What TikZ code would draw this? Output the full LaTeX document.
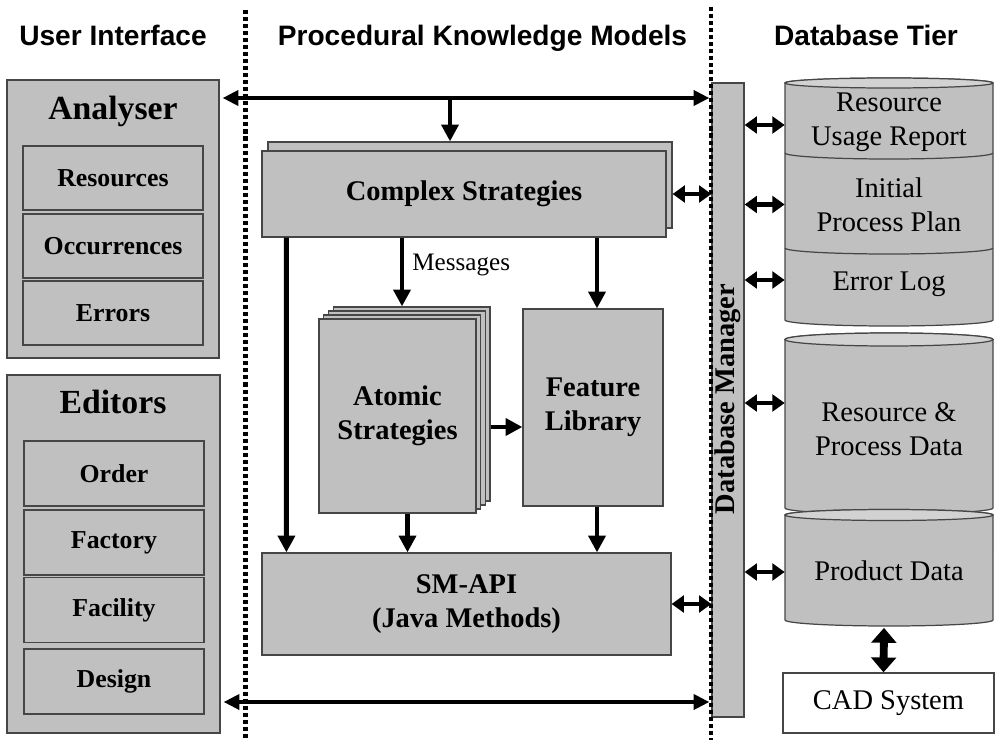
\documentclass[tikz,border=0pt]{standalone}
\usepackage{fontspec}
\setmainfont{Liberation Serif}
\newfontfamily\tierfont{Liberation Sans}
\usepackage{tikz}
\usetikzlibrary{arrows.meta,positioning,calc}
\definecolor{boxgray}{RGB}{192,192,192}
\definecolor{capgray}{RGB}{210,210,210}
\definecolor{edgegray}{RGB}{70,70,70}

\begin{document}
\begin{tikzpicture}[x=0.02cm,y=-0.02cm,every node/.style={inner sep=0pt,align=center},
  box/.style={draw=edgegray,fill=boxgray,line width=0.7pt},
  tier/.style={font=\tierfont\bfseries\fontsize{16}{19}\selectfont,anchor=base},
  title/.style={font=\bfseries\fontsize{19.2}{23}\selectfont,anchor=base},
  item/.style={box,minimum width=3.6cm,minimum height=1.3cm,font=\bfseries\fontsize{14.7}{17}\selectfont},
  main/.style={font=\bfseries\fontsize{16.2}{19.5}\selectfont},
  plain/.style={font=\fontsize{16.2}{19.5}\selectfont},
  cyl/.style={draw=edgegray,fill=boxgray,line width=0.7pt},
  bus/.style={line width=2.8pt,{Triangle[length=9pt,width=8.5pt]}-{Triangle[length=9pt,width=8.5pt]}},
  feed/.style={line width=2.8pt,-{Triangle[length=9.5pt,width=9.5pt]}},
  link/.style={line width=2.8pt,{Triangle[length=7pt,width=9.5pt]}-{Triangle[length=7pt,width=9.5pt]}},
  lift/.style={line width=4.5pt,{Triangle[length=8.5pt,width=14pt]}-{Triangle[length=8.5pt,width=14pt]}},
  sep/.style={line width=2.8pt,dash pattern=on 2.3pt off 1.7pt}]
\useasboundingbox (0,0) rectangle (997,740);

% tier headings
\node[tier] (uihead) at (113,46) {User Interface};
\node[tier] (pkmhead) at (482.5,46) {Procedural Knowledge Models};
\node[tier] (dbhead) at (866,46) {Database Tier};

% user interface
\node[box,minimum width=4.24cm,minimum height=5.56cm] (analyser) at (113,219) {};
\node[title] (analysertitle) at (113,119) {Analyser};
\node[item,minimum height=1.28cm] (resources) at (113,178) {Resources};
\node[item,minimum height=1.28cm] (occurrences) at (113,246) {Occurrences};
\node[item,minimum height=1.28cm] (errors) at (113,313) {Errors};

\node[box,minimum width=4.26cm,minimum height=7.16cm] (editors) at (113.5,554) {};
\node[title] (editorstitle) at (113,413) {Editors};
\node[item] (order) at (114,473.5) {Order};
\node[item] (factory) at (114,542.5) {Factory};
\node[item] (facility) at (114,610) {Facility};
\node[item] (design) at (114,681.5) {Design};

% procedural knowledge models
\node[box,minimum width=8.08cm,minimum height=1.72cm] (complexback) at (470,185) {};
\node[box,minimum width=8.08cm,minimum height=1.72cm,main] (complex) at (464,194) {Complex Strategies};

\foreach \i in {3,2,1}
  \node[box,minimum width=3.14cm,minimum height=3.88cm] (atomic\i) at ({397.5+4.7*\i},{416-4*\i}) {};
\node[box,minimum width=3.14cm,minimum height=3.88cm,main] (atomic) at (397.5,416) {Atomic\\Strategies};

\node[box,minimum width=2.8cm,minimum height=3.94cm,main] (feature) at (593,407.5) {Feature\\Library};
\node[box,minimum width=8.18cm,minimum height=2.04cm,main] (smapi) at (466.5,604) {SM-API\\(Java Methods)};

\node[box,minimum width=0.64cm,minimum height=12.68cm] (dbm) at (728,400) {};
\node[main,rotate=90] (dbmlabel) at (728,399) {Database Manager};

% database tier
\draw[cyl] (785,83) -- (785,320) arc[start angle=180,end angle=360,x radius=2.08cm,y radius=0.12cm]
  -- (993,83) arc[start angle=0,end angle=180,x radius=2.08cm,y radius=0.1cm] -- cycle;
\draw[cyl,fill=capgray] (889,83) ellipse[x radius=2.08cm,y radius=0.1cm];
\draw[cyl,fill=none] (785,153) arc[start angle=180,end angle=360,x radius=2.08cm,y radius=0.12cm];
\draw[cyl,fill=none] (785,248) arc[start angle=180,end angle=360,x radius=2.08cm,y radius=0.12cm];

\draw[cyl] (785,339.5) -- (785,508) arc[start angle=180,end angle=360,x radius=2.08cm,y radius=0.12cm]
  -- (993,339.5) arc[start angle=0,end angle=180,x radius=2.08cm,y radius=0.13cm] -- cycle;
\draw[cyl,fill=capgray] (889,339.5) ellipse[x radius=2.08cm,y radius=0.13cm];

\draw[cyl] (785,515) -- (785,620) arc[start angle=180,end angle=360,x radius=2.08cm,y radius=0.12cm]
  -- (993,515) arc[start angle=0,end angle=180,x radius=2.08cm,y radius=0.11cm] -- cycle;
\draw[cyl,fill=capgray] (889,515) ellipse[x radius=2.08cm,y radius=0.11cm];

\node[plain,minimum width=4.16cm] (usage) at (889,122.5) {Resource\\Usage Report};
\node[plain,minimum width=4.16cm] (initial) at (889,204.5) {Initial\\Process Plan};
\node[plain,minimum width=4.16cm] (errlog) at (889,284) {Error Log};
\node[plain,minimum width=4.16cm] (rpd) at (889,429) {Resource \&\\Process Data};
\node[plain,minimum width=4.16cm,minimum height=1.98cm] (product) at (889,570.5) {Product Data};

\node[plain,draw=edgegray,fill=white,line width=0.7pt,minimum width=4.22cm,minimum height=1.2cm] (cad) at (888.5,703) {CAD System};

% separators
\draw[sep] (245.5,10) -- (245.5,740);
\draw[sep] (711,7) -- (711,740);

% connectors
\coordinate (topbus) at (450,98);
\coordinate (lowbus) at (450,702);
\draw[bus] ([xshift=0.06cm]analyser.east |- topbus) -- ([xshift=-0.04cm]dbm.west |- topbus);
\draw[bus] ([xshift=0.06cm]editors.east |- lowbus) -- ([xshift=-0.04cm]dbm.west |- lowbus);
\draw[feed] (topbus) -- (topbus |- complexback.north);

\draw[link] (complexback.east |- complex.east) -- (dbm.west |- complex.east);
\draw[link] (smapi.east) -- (dbm.west |- smapi.east);

\draw[feed] ([xshift=0.5cm]complex.south west) -- ([xshift=0.5cm]smapi.north west);
\draw[feed] ($(complex.south -| atomic.north)+(4.5,0)$) -- ($(atomic3.north -| atomic.north)+(4.5,0)$);
\node[plain,font=\fontsize{14.3}{17}\selectfont,anchor=base west] (msglabel) at (412,270) {Messages};
\draw[feed] ($(complex.south -| feature.north)+(4,0)$) -- ($(feature.north)+(4,0)$);
\draw[feed] ($(atomic3.east |- atomic.east)+(0,11)$) -- ($(feature.west |- atomic.east)+(0,11)$);
\draw[feed] ($(atomic.south)+(10,0)$) -- ($(atomic.south |- smapi.north)+(10,0)$);
\draw[feed] ($(feature.south)+(4,0)$) -- ($(feature.south |- smapi.north)+(4,0)$);

\draw[link] ($(dbm.east |- usage.west)+(0,2.5)$) -- ($(usage.west)+(0,2.5)$);
\draw[link] (dbm.east |- initial.west) -- (initial.west);
\draw[link] ($(dbm.east |- errlog.west)+(0,-4)$) -- ($(errlog.west)+(0,-4)$);
\draw[link] ($(dbm.east |- rpd.west)+(0,-26)$) -- ($(rpd.west)+(0,-26)$);
\draw[link] ($(dbm.east |- product.west)+(0,1.5)$) -- ($(product.west)+(0,1.5)$);
\draw[lift] ([xshift=-0.1cm,yshift=-0.15cm]product.south) -- ([xshift=-0.1cm]cad.north);
\end{tikzpicture}
\end{document}
